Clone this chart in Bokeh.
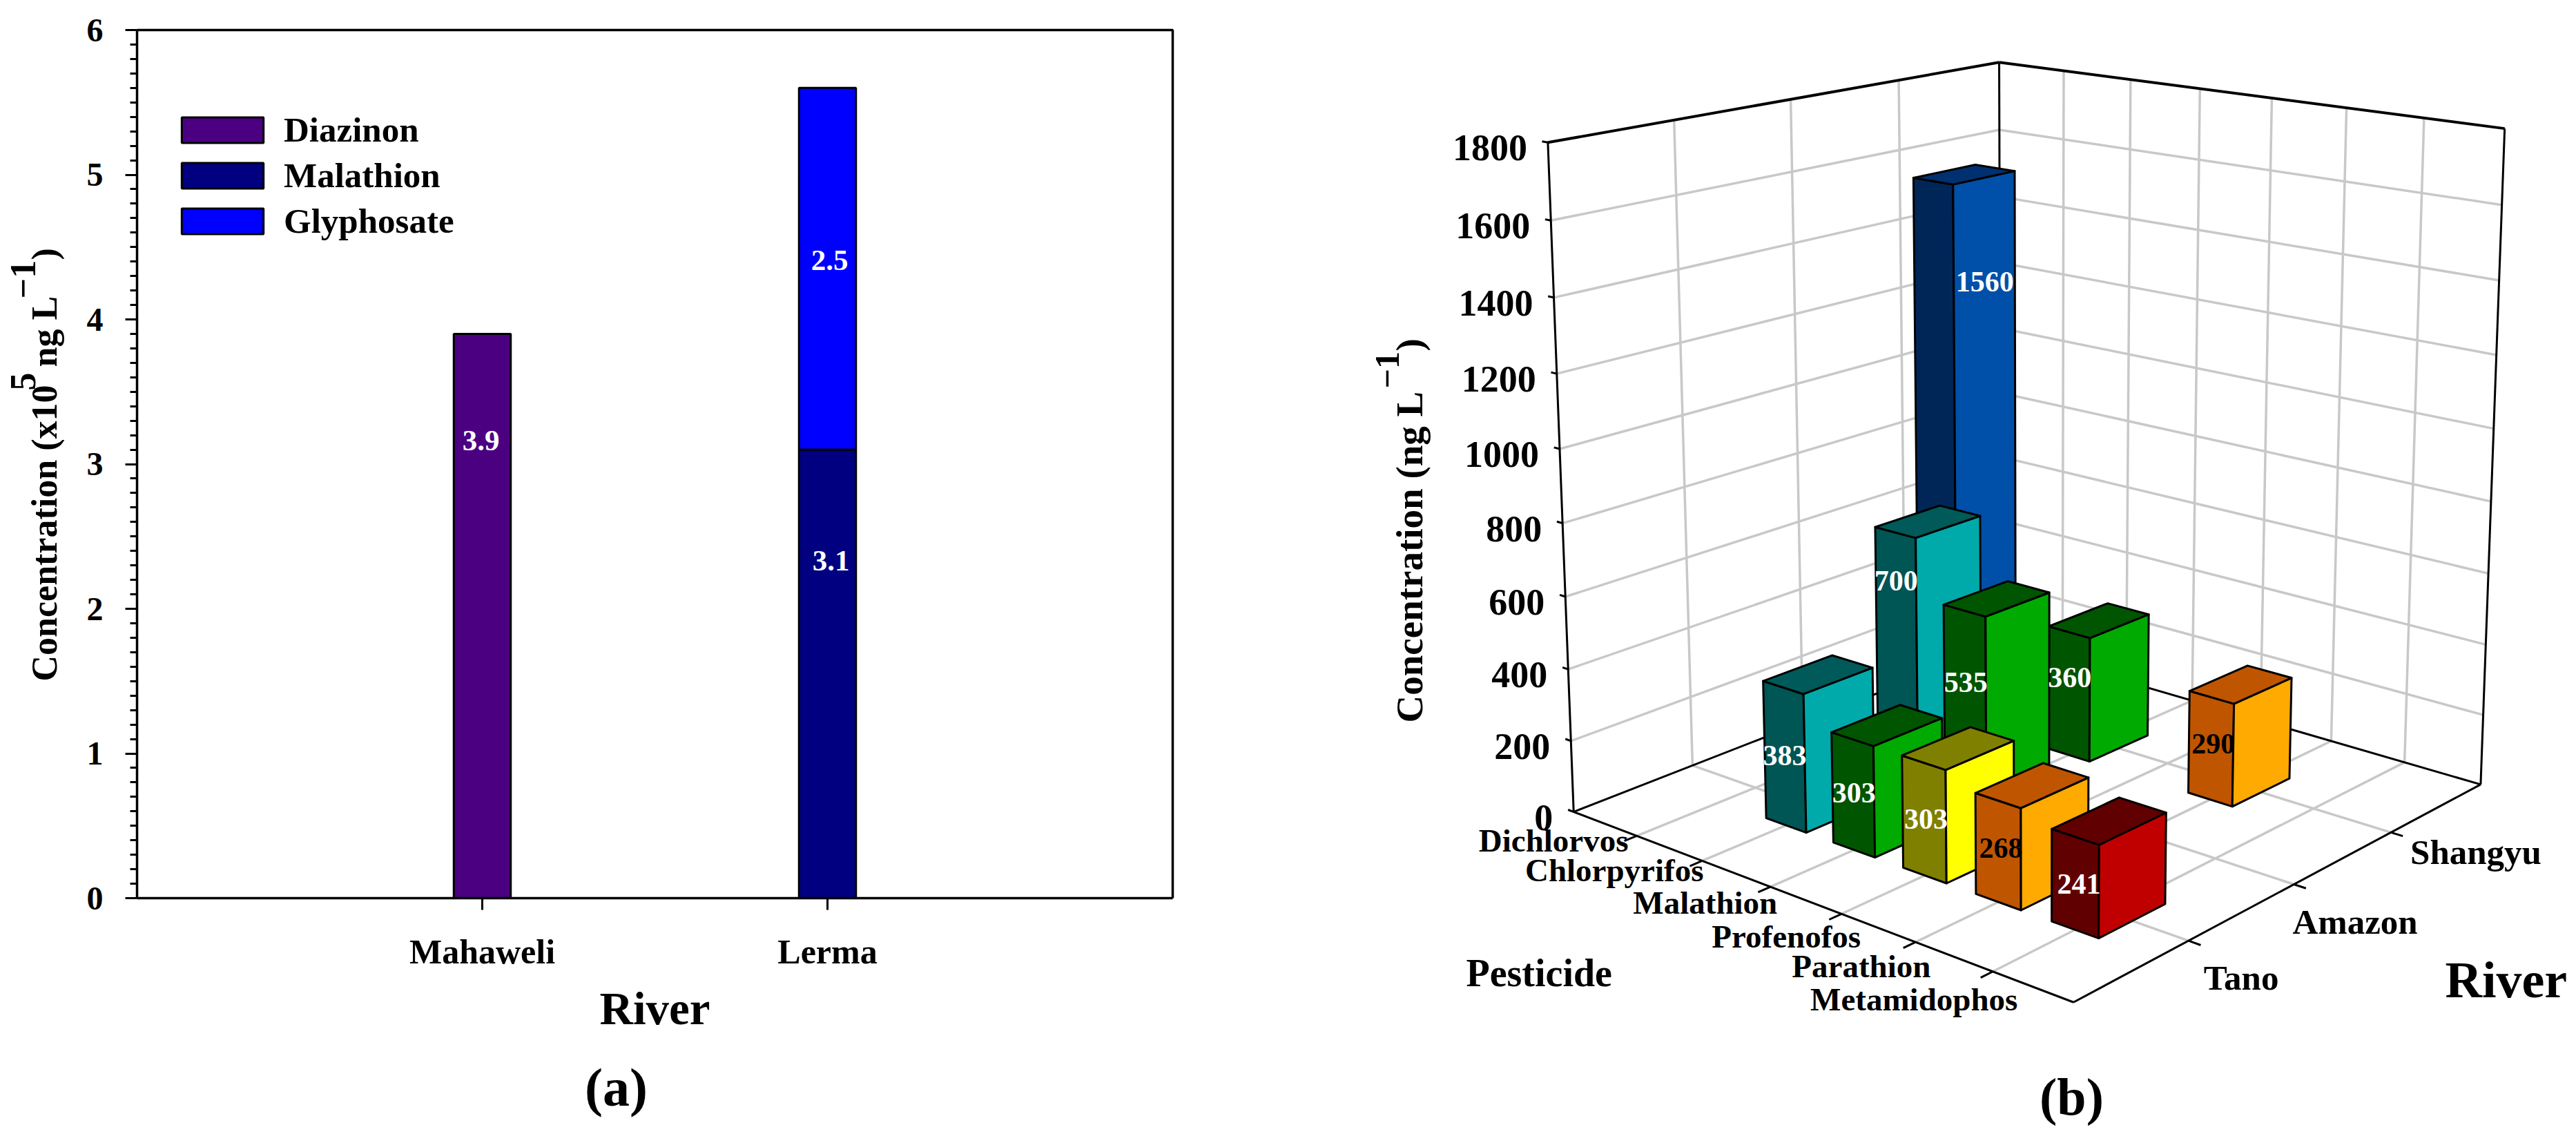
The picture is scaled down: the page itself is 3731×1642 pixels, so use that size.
import math
import numpy as np
from bokeh.plotting import figure
from bokeh.models import Range1d, FixedTicker, Legend, LegendItem
from bokeh.layouts import row
from bokeh.core.properties import value
from bokeh.embed import file_html
from bokeh.resources import INLINE

FONT = "Liberation Serif"

# ---- panel (a) data ----
rivers_a = ["Mahaweli", "Lerma"]
diazinon = [3.9, 0.0]
malathion_a = [0.0, 3.1]
glyphosate = [0.0, 2.5]

# ---- panel (b) data ----
pesticides = ["Dichlorvos", "Chlorpyrifos", "Malathion", "Profenofos", "Parathion", "Metamidophos"]
rivers_b = ["Tano", "Amazon", "Shangyu"]
tano = [0, 383, 303, 303, 268, 241]
amazon = [0, 700, 535, 0, 0, 0]
shangyu = [1560, 0, 360, 0, 290, 0]
z_ticks = [0, 200, 400, 600, 800, 1000, 1200, 1400, 1600, 1800]

# ================= panel (a) =================
FL, FR, FT, FB = 198.0, 1698.0, 43.0, 1300.0     # axes box edges on the page
A_W, FIG_H = 1900, 1640
PAGE = 0          # figure origin on the page
VT = 22           # rotated alphabetic text sits this far right of its anchor


def xa(px):
    return (px - FL) / (FR - FL) * 3


def ya(py):
    return (FB - py) / (FB - FT) * 6


pa = figure(width=A_W, height=FIG_H, output_backend="svg", toolbar_location=None,
            x_range=Range1d(xa(PAGE), xa(PAGE + A_W)), y_range=Range1d(ya(PAGE + FIG_H), ya(PAGE)),
            min_border=0)
pa.grid.visible = False
pa.outline_line_color = None
X = [1, 2]
BW = 0.165
pa.multi_line(xs=[[0, 3, 3]], ys=[[6, 6, 0]], line_color="black", line_width=3.5)
r1 = pa.vbar(x=X[:1], bottom=[0], top=diazinon[:1], width=BW, fill_color="#4B0082", line_color="black", line_width=3)
r2 = pa.vbar(x=X[1:], bottom=[0], top=malathion_a[1:], width=BW, fill_color="#000080", line_color="black", line_width=3)
r3 = pa.vbar(x=X[1:], bottom=malathion_a[1:], top=[malathion_a[1] + glyphosate[1]], width=BW,
             fill_color="#0000FF", line_color="black", line_width=3)
pa.text(x=[0.996, 2.01, 2.006], y=[3.16, 2.33, 4.41], text=["3.9", "3.1", "2.5"],
        text_color="white", text_font=value(FONT), text_font_style="bold", text_font_size="43px",
        text_align="center", text_baseline="middle")

pa.xaxis.ticker = FixedTicker(ticks=X)
pa.xaxis.major_label_overrides = {x: n for x, n in zip(X, rivers_a)}
pa.xaxis.axis_label = "River"
pa.yaxis.ticker = FixedTicker(ticks=list(range(7)), minor_ticks=[i / 10 for i in range(61)])
pa.xaxis.fixed_location = 0
pa.yaxis.fixed_location = 0
pa.xaxis.bounds = (0, 3)
pa.yaxis.bounds = (0, 6)
for ax in (pa.xaxis[0], pa.yaxis[0]):
    ax.axis_line_color = "black"
    ax.axis_line_width = 3.5
    ax.major_tick_line_color = "black"
    ax.major_tick_line_width = 3
    ax.minor_tick_line_color = "black"
    ax.minor_tick_line_width = 3
    ax.major_tick_in = 0
    ax.major_tick_out = 17
    ax.minor_tick_in = 0
    ax.minor_tick_out = 10
    ax.major_label_text_font = FONT
    ax.major_label_text_font_style = "bold"
    ax.major_label_text_font_size = "50px"
    ax.major_label_text_color = "black"
pa.yaxis.major_label_text_font_size = "48px"
pa.xaxis.minor_tick_line_color = None
pa.xaxis.major_label_standoff = 32
pa.yaxis.major_label_standoff = 32
pa.xaxis.axis_label_text_font = FONT
pa.xaxis.axis_label_text_font_style = "bold"
pa.xaxis.axis_label_text_font_size = "67px"
pa.xaxis.axis_label_text_color = "black"
pa.xaxis.axis_label_standoff = 14

legend = Legend(items=[LegendItem(label="Diazinon", renderers=[r1]),
                       LegendItem(label="Malathion", renderers=[r2]),
                       LegendItem(label="Glyphosate", renderers=[r3])],
                location=(248, 1291), orientation="vertical", glyph_width=148, glyph_height=46,
                spacing=8, label_standoff=15, padding=0, margin=0,
                border_line_color=None, background_fill_alpha=0,
                label_text_font=FONT, label_text_font_style="bold", label_text_font_size="51px",
                label_text_color="black")
pa.add_layout(legend, "center")


def txa(px, py, text, size, align="left", base="alphabetic", angle=0.0):
    pa.text(x=[xa(px)], y=[ya(py)], text=[text], angle=angle, text_font=value(FONT),
            text_font_style="bold", text_font_size=f"{size}px", text_color="black",
            text_align=align, text_baseline=base)


up = math.pi / 2
txa(86 - VT, 986, "Concentration (x10", 52, angle=up)
txa(55 - VT, 565, "5", 52, angle=up)
txa(86 - VT, 531, "ng L", 52, angle=up)
txa(55 - VT, 432, "\u22121", 52, angle=up)
txa(86 - VT, 376, ")", 52, angle=up)
txa(892, 1574, "(a)", 78, align="center", base="middle")

# ================= panel (b) =================
B_X0 = PAGE + A_W
B_W = 3723 - B_X0
pb = figure(width=B_W, height=FIG_H, output_backend="svg", toolbar_location=None,
            x_range=Range1d(B_X0, 3723), y_range=Range1d(PAGE + FIG_H, PAGE),
            min_border=0, x_axis_location=None, y_axis_location=None)
pb.grid.visible = False
pb.outline_line_color = None

UMAX, VMAX, WMAX = 7.0, 4.0, 1800.0
# camera calibration: box locations (pesticide slot, river slot, height) -> page position
cam_world = [(0, 0, 0), (7, 0, 0), (7, 4, 0), (0, 4, 0), (0, 0, 1800), (0, 4, 1800), (7, 4, 1800),
             (7, 1, 0), (7, 2, 0), (7, 3, 0),
             (1, 0, 0), (2, 0, 0), (3, 0, 0), (4, 0, 0), (5, 0, 0), (6, 0, 0),
             (0, 0, 1600), (0, 0, 1400), (0, 0, 1200), (0, 0, 1000), (0, 0, 800), (0, 0, 600), (0, 0, 400), (0, 0, 200),
             (0, 1, 1800), (0, 2, 1800), (0, 3, 1800), (1, 4, 1800), (6, 4, 1800)]
cam_image = [(2282, 1176), (3001, 1448), (3592, 1135), (2895, 932), (2243, 203), (2895, 89), (3627, 184),
             (3172, 1362), (3327, 1280), (3464, 1206),
             (2365, 1211), (2467, 1245), (2567, 1284), (2666, 1322), (2770, 1363), (2880, 1406),
             (2245, 318), (2248, 430), (2254, 541), (2257, 651), (2262, 758), (2268, 864), (2272, 970), (2277, 1073),
             (2425, 175), (2595, 142), (2750, 116), (2987, 101), (3510, 175)]
rowsA = []
for (u, v, w), (px, py) in zip(cam_world, cam_image):
    Xw = [u / UMAX, v / VMAX, w / WMAX, 1.0]
    x, y = (px - 3000) / 1000, (py - 800) / 1000
    rowsA.append(Xw + [0, 0, 0, 0] + [-x * c for c in Xw])
    rowsA.append([0, 0, 0, 0] + Xw + [-y * c for c in Xw])
P = np.linalg.svd(np.array(rowsA))[2][-1].reshape(3, 4)


def proj(u, v, w):
    h = P @ np.array([u / UMAX, v / VMAX, w / WMAX, 1.0])
    return h[0] / h[2] * 1000 + 3000, h[1] / h[2] * 1000 + 800


def seg(a, b):
    pa_, pb_ = proj(*a), proj(*b)
    return [pa_[0], pb_[0]], [pa_[1], pb_[1]]


def lines(segs, color, width):
    xs, ys = zip(*[seg(a, b) for a, b in segs])
    pb.multi_line(xs=list(xs), ys=list(ys), line_color=color, line_width=width)


NU, NV = len(pesticides), len(rivers_b)
grid = []
for w in z_ticks[1:-1]:
    grid += [((0, 0, w), (0, 4, w)), ((0, 4, w), (7, 4, w))]
for v in range(1, NV + 1):
    grid += [((0, v, 0), (0, v, 1800)), ((0, v, 0), (7, v, 0))]
for u in range(1, NU + 1):
    grid += [((u, 4, 0), (u, 4, 1800)), ((u, 0, 0), (u, 4, 0))]
lines(grid, "#c8c8c8", 3.5)

frame_thin = [((0, 0, 0), (0, 0, 1800)), ((0, 4, 0), (0, 4, 1800)), ((7, 4, 0), (7, 4, 1800)),
              ((0, 0, 0), (0, 4, 0)), ((0, 4, 0), (7, 4, 0)),
              ((0, 0, 0), (7, 0, 0)), ((7, 0, 0), (7, 4, 0))]
frame_thin += [((0, 0, w), (-0.09, 0, w)) for w in z_ticks]
frame_thin += [((u, 0, 0), (u, -0.1, 0)) for u in range(1, NU + 1)]
frame_thin += [((7, v, 0), (7.15, v, 0)) for v in range(1, NV + 1)]
lines(frame_thin, "black", 3)
lines([((0, 0, 1800), (0, 4, 1800)), ((0, 4, 1800), (7, 4, 1800))], "black", 4)

side_col = ["#0050AA", "#00AAAA", "#00AA00", "#FFFF00", "#FFAA00", "#C00000"]
front_col = ["#002658", "#005555", "#005500", "#808000", "#C05500", "#600000"]
top_col = ["#003070", "#005A5A", "#005500", "#808000", "#C05500", "#600000"]
HW = 0.30

bars = []
for vi, series in enumerate([tano, amazon, shangyu], start=1):
    for ui, val in enumerate(series, start=1):
        if val > 0:
            bars.append((ui, vi, val))
bars.sort(key=lambda b: b[1] - b[0], reverse=True)

xs, ys, cols = [], [], []
for u, v, val in bars:
    a, b, c, d = (u - HW, v - HW), (u + HW, v - HW), (u + HW, v + HW), (u - HW, v + HW)
    faces = [([a + (0,), b + (0,), b + (val,), a + (val,)], front_col[u - 1]),
             ([b + (0,), c + (0,), c + (val,), b + (val,)], side_col[u - 1]),
             ([a + (val,), b + (val,), c + (val,), d + (val,)], top_col[u - 1])]
    for pts, col in faces:
        pr = [proj(*q) for q in pts]
        xs.append([q[0] for q in pr])
        ys.append([q[1] for q in pr])
        cols.append(col)
pb.patches(xs=xs, ys=ys, fill_color=cols, line_color="black", line_width=3, line_join="round")


def tx(x, y, text, size, align="center", base="middle", color="black", angle=0.0):
    pb.text(x=x, y=y, text=text, text_font=value(FONT), text_font_style="bold",
            text_font_size=f"{size}px", text_align=align, text_baseline=base,
            text_color=color, angle=angle)


# bar values: drawn on the bar's near edge
label_frac = {(1, 3): 0.825, (2, 1): 0.56, (3, 1): 0.58, (4, 1): 0.57, (5, 1): 0.61, (6, 1): 0.58,
              (2, 2): 0.83, (3, 2): 0.66, (3, 3): 0.68, (5, 3): 0.61}
lx, ly, lt, lc = [], [], [], []
for u, v, val in bars:
    sx, sy = proj(u + HW, v - HW, val * label_frac[(u, v)])
    lx.append(sx + (45 if val > 1000 else -29))
    ly.append(sy)
    lt.append(str(val))
    lc.append("black" if u == 5 else "white")
tx(lx, ly, lt, 42, color=lc)

# height labels
zt = [proj(0, 0, w) for w in z_ticks]
tx([q[0] - 30 for q in zt], [q[1] + 8 for q in zt], [str(w) for w in z_ticks], 54, align="right")

# pesticide labels
off_p = [(-12, 7), (2, 14), (10, 23), (28, 33), (22, 35), (36, 40)]
pt = [proj(i + 1, 0, 0) for i in range(NU)]
tx([q[0] + o[0] for q, o in zip(pt, off_p)], [q[1] + o[1] for q, o in zip(pt, off_p)], pesticides, 47, align="right")

# river labels
off_r = [(22, 54), (-2, 54), (28, 29)]
rt = [proj(7, i + 1, 0) for i in range(NV)]
tx([q[0] + o[0] for q, o in zip(rt, off_r)], [q[1] + o[1] for q, o in zip(rt, off_r)], rivers_b, 51, align="left")

tx([2123], [1408], ["Pesticide"], 56, align="left")
tx([3541], [1418], ["River"], 74, align="left")
tx([3000], [1587], ["(b)"], 76)

tx([2063 - VT], [1046], ["Concentration (ng L"], 55, align="left", base="alphabetic", angle=up)
tx([2031 - VT], [562], ["\u22121"], 50, align="left", base="alphabetic", angle=up)
tx([2063 - VT], [508], [")"], 55, align="left", base="alphabetic", angle=up)

layout = row(pa, pb)
open("out.html", "w").write(file_html(layout, INLINE))
